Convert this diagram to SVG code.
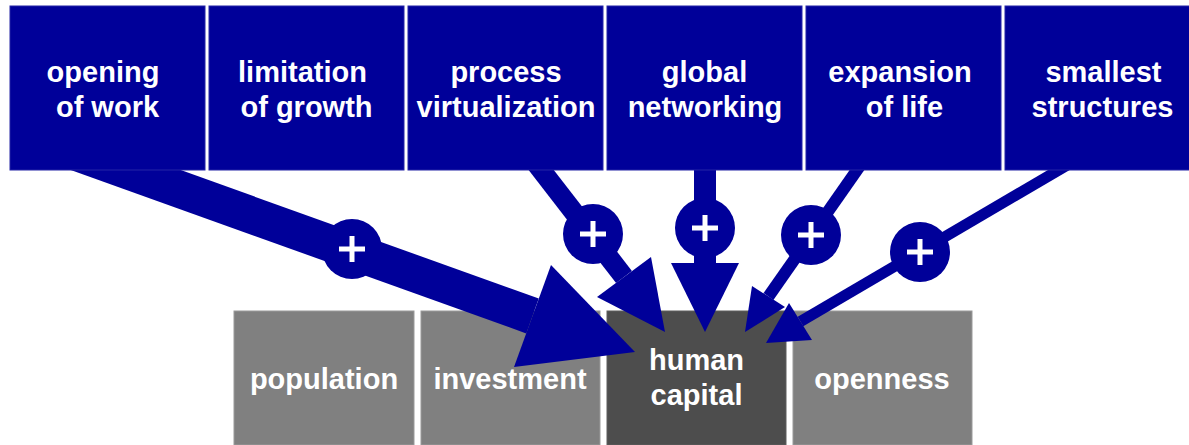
<svg xmlns="http://www.w3.org/2000/svg" xmlns:xlink="http://www.w3.org/1999/xlink" width="1189" height="445" viewBox="0 0 1189 445">
<style>
.top{fill:#000099;stroke:#2424a6;stroke-width:1}
.bot{fill:#808080;stroke:#9a9a9a;stroke-width:1}
.hc{fill:#4d4d4d;stroke:#5e5e5e;stroke-width:1}
.t{font-family:"Liberation Sans",Arial,sans-serif;font-weight:bold;font-size:29px;fill:#ffffff;text-anchor:middle}
.ln{stroke:#000099;fill:none;stroke-linecap:butt}
.hd{fill:#000099}
.plus{stroke:#ffffff;stroke-width:5;fill:none}
</style>
<defs>
<g id="sign"><circle r="30" fill="#000099"/><path class="plus" d="M-13 0H13M0-13V13"/></g>
</defs>
<rect width="1189" height="445" fill="#ffffff"/>
<g id="population"><rect class="bot" x="234" y="311" width="180" height="134"/><text class="t" x="324" y="389">population</text></g>
<g id="investment"><rect class="bot" x="421" y="311" width="179" height="134"/><text class="t" x="510" y="389">investment</text></g>
<g id="human-capital"><rect class="hc" x="607" y="311" width="179" height="134"/><text class="t" x="696.5" y="370">human</text><text class="t" x="696.5" y="405">capital</text></g>
<g id="openness"><rect class="bot" x="793" y="311" width="179" height="134"/><text class="t" x="882" y="389">openness</text></g>
<g id="connectors">
<line class="ln" x1="70" y1="150" x2="532.5" y2="316" stroke-width="37"/>
<polygon class="hd" points="551,265 514,367 635,352"/>
<line class="ln" x1="525.7" y1="150" x2="624" y2="277" stroke-width="20"/>
<polygon class="hd" points="597,297 651,257 665,332"/>
<line class="ln" x1="705" y1="150" x2="705" y2="264" stroke-width="22"/>
<polygon class="hd" points="671,263 739,263 705,332"/>
<line class="ln" x1="871" y1="150" x2="768.5" y2="296.5" stroke-width="12"/>
<polygon class="hd" points="752,286 785,307 745,332"/>
<line class="ln" x1="1093" y1="150" x2="800.5" y2="321.5" stroke-width="11"/>
<polygon class="hd" points="789,303 812,340 766,343"/>
<use xlink:href="#sign" x="352" y="249"/>
<use xlink:href="#sign" x="593" y="234"/>
<use xlink:href="#sign" x="705" y="228"/>
<use xlink:href="#sign" x="811" y="235"/>
<use xlink:href="#sign" x="920" y="252"/>
</g>
<g id="opening-of-work"><rect class="top" x="10" y="6" width="195" height="164"/><text class="t" x="103" y="82">opening</text><text class="t" x="107.5" y="117">of work</text></g>
<g id="limitation-of-growth"><rect class="top" x="209" y="6" width="195" height="164"/><text class="t" x="302.5" y="82">limitation</text><text class="t" x="306.5" y="117">of growth</text></g>
<g id="process-virtualization"><rect class="top" x="408" y="6" width="195" height="164"/><text class="t" x="506" y="82">process</text><text class="t" x="506" y="117">virtualization</text></g>
<g id="global-networking"><rect class="top" x="607" y="6" width="195" height="164"/><text class="t" x="704.5" y="82">global</text><text class="t" x="705" y="117">networking</text></g>
<g id="expansion-of-life"><rect class="top" x="806" y="6" width="195" height="164"/><text class="t" x="900" y="82">expansion</text><text class="t" x="904.5" y="117">of life</text></g>
<g id="smallest-structures"><rect class="top" x="1005" y="6" width="195" height="164"/><text class="t" x="1103.5" y="82">smallest</text><text class="t" x="1102.5" y="117">structures</text></g>
</svg>
